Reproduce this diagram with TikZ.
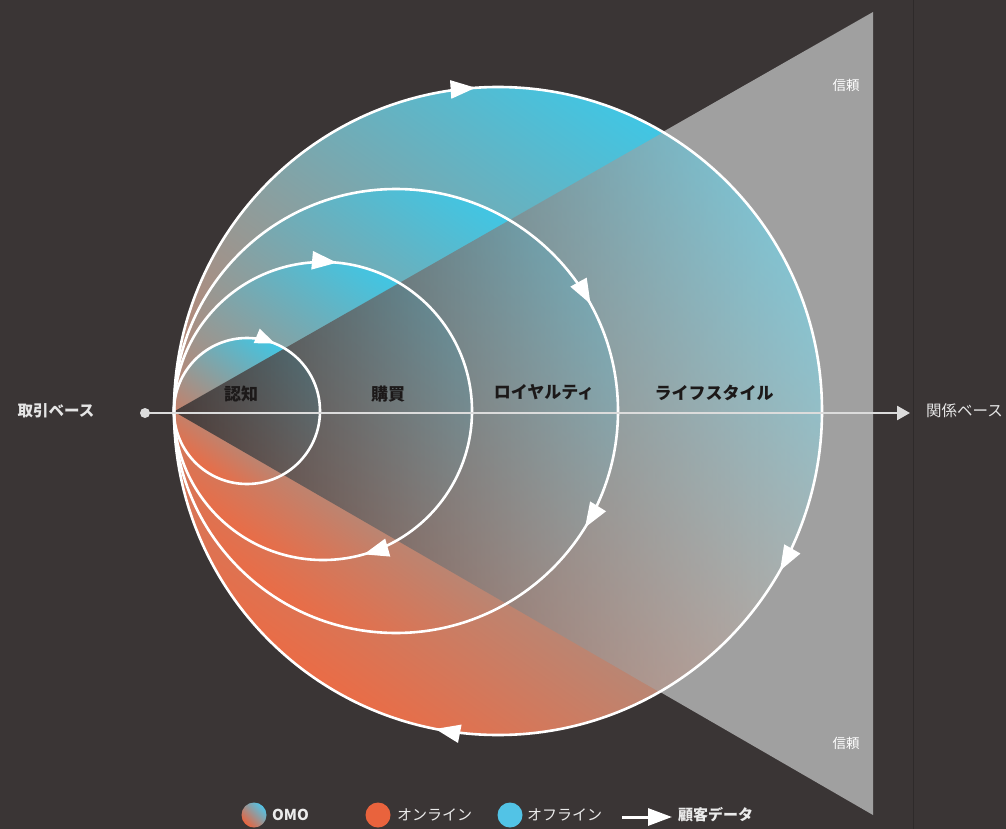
\documentclass[tikz,border=0pt]{standalone}
\usepackage{fontspec}
\newfontfamily\jp{Noto Sans CJK JP}
\usetikzlibrary{arrows.meta,decorations.markings,fadings}

\definecolor{bg}{HTML}{3A3535}
\definecolor{bgline}{HTML}{2E2A2A}
\definecolor{cblue}{HTML}{40C6E4}
\definecolor{corange}{HTML}{EA6C46}
\definecolor{cmid}{HTML}{C4B2AA}
\definecolor{conegray}{HTML}{A0A0A0}
\definecolor{conelight}{HTML}{D8D8D8}
\definecolor{axisgray}{HTML}{DCDCDC}
\definecolor{labeldark}{HTML}{1C1919}
\definecolor{legblue}{HTML}{52C3E6}
\definecolor{legorange}{HTML}{E9633D}

\tikzfading[name=conefade, left color=transparent!10, right color=transparent!58]

\begin{document}
\begin{tikzpicture}[x=1pt,y=-1pt,
  ring/.style={draw=white, line width=2.6pt},
  flowtip/.tip={Triangle[width=18pt,length=25pt]},
  smalltip/.tip={Triangle[width=15pt,length=20pt]},
  circshade/.style={shading=axis, top color=cblue, middle color=cmid, bottom color=corange, shading angle=-35},
  lvl/.style={font=\jp\bfseries\fontsize{17}{17}\selectfont, text=labeldark, inner sep=0pt},
  axislabel/.style={font=\jp\fontsize{15.5}{16}\selectfont, text=white!90!black, inner sep=0pt},
  trust/.style={font=\jp\fontsize{13.5}{14}\selectfont, text=white, inner sep=0pt},
  legtext/.style={font=\jp\fontsize{15}{15}\selectfont, text=white!92!black, inner sep=0pt, anchor=west},
  legdot/.style={circle, minimum size=25pt, inner sep=0pt}
]
\fill[bg] (0,0) rectangle (1006,829);
\useasboundingbox (0,0) rectangle (1006,829);

% faint vertical guide
\draw[bgline, line width=0.8pt] (913,0) -- (913,829);

% cone
\coordinate (apex) at (174,411);
\coordinate (ct) at (873,12);
\coordinate (cb) at (873,815);
\fill[conegray] (apex) -- (ct) -- (cb) -- cycle;

% circle fills
\shade[circshade] (498,411) circle[radius=324];
\shade[circshade] (396,411) circle[radius=222];
\shade[circshade] (323,411) circle[radius=149];
\shade[circshade] (247,411) circle[radius=73];

% cone overlay inside the big circle
\begin{scope}
  \clip (498,411) circle[radius=324];
  \shade[left color=bg, right color=conelight, path fading=conefade] (apex) -- (ct) -- (cb) -- cycle;
\end{scope}

% circle outlines with flow arrows (positions in increasing order)
\draw[ring, postaction={decorate}, decoration={markings,
   mark=at position 0.082 with {\arrow{flowtip}},
   mark=at position 0.281 with {\arrow{flowtip}},
   mark=at position 0.739 with {\arrow{flowtip}}}] (498,411) circle[radius=324];
\draw[ring, postaction={decorate}, decoration={markings,
   mark=at position 0.088 with {\arrow{flowtip}},
   mark=at position 0.920 with {\arrow{flowtip}}}] (396,411) circle[radius=222];
\draw[ring, postaction={decorate}, decoration={markings,
   mark=at position 0.206 with {\arrow{flowtip}},
   mark=at position 0.765 with {\arrow{flowtip}}}] (323,411) circle[radius=149];
\draw[ring, postaction={decorate}, decoration={markings,
   mark=at position 0.813 with {\arrow{smalltip}}}] (247,411) circle[radius=73];

% axis
\node[circle, fill=axisgray, minimum size=10pt, inner sep=0pt] (src) at (145,413) {};
\coordinate (dst) at (910,413);
\draw[axisgray, line width=2.6pt, -{Triangle[width=14pt,length=13pt]}] (src.center) -- (dst);

% axis labels
\node[axislabel] (lt) at (56,411) {\bfseries 取引ベース};
\node[axislabel, anchor=west] (lr) at (926,411) {関係ベース};

% stage labels
\node[lvl] (s1) at (241,394) {認知};
\node[lvl] (s2) at (388,394) {購買};
\node[lvl] (s3) at (544,392) {ロイヤルティ};
\node[lvl] (s4) at (714,393) {ライフスタイル};

% trust labels
\node[trust] (t1) at (846,85) {信頼};
\node[trust] (t2) at (846,743) {信頼};

% legend
\shade[shading=axis, top color=legblue, bottom color=legorange, shading angle=-45] (254,815) circle[radius=12.5];
\node[legdot] (lomo) at (254,815) {};
\node[legtext] (tomo) at (272,815) {\bfseries OMO};
\node[legdot, fill=legorange] (lon) at (378,815) {};
\node[legtext] (ton) at (397,815) {オンライン};
\node[legdot, fill=legblue] (loff) at (510,815) {};
\node[legtext] (toff) at (527,815) {オフライン};
\coordinate (da) at (622,817);
\coordinate (db) at (672,817);
\draw[white, line width=3pt, -{Triangle[width=17pt,length=24pt]}] (da) -- (db);
\node[legtext] (tdata) at (678,815) {\bfseries 顧客データ};
\end{tikzpicture}
\end{document}
